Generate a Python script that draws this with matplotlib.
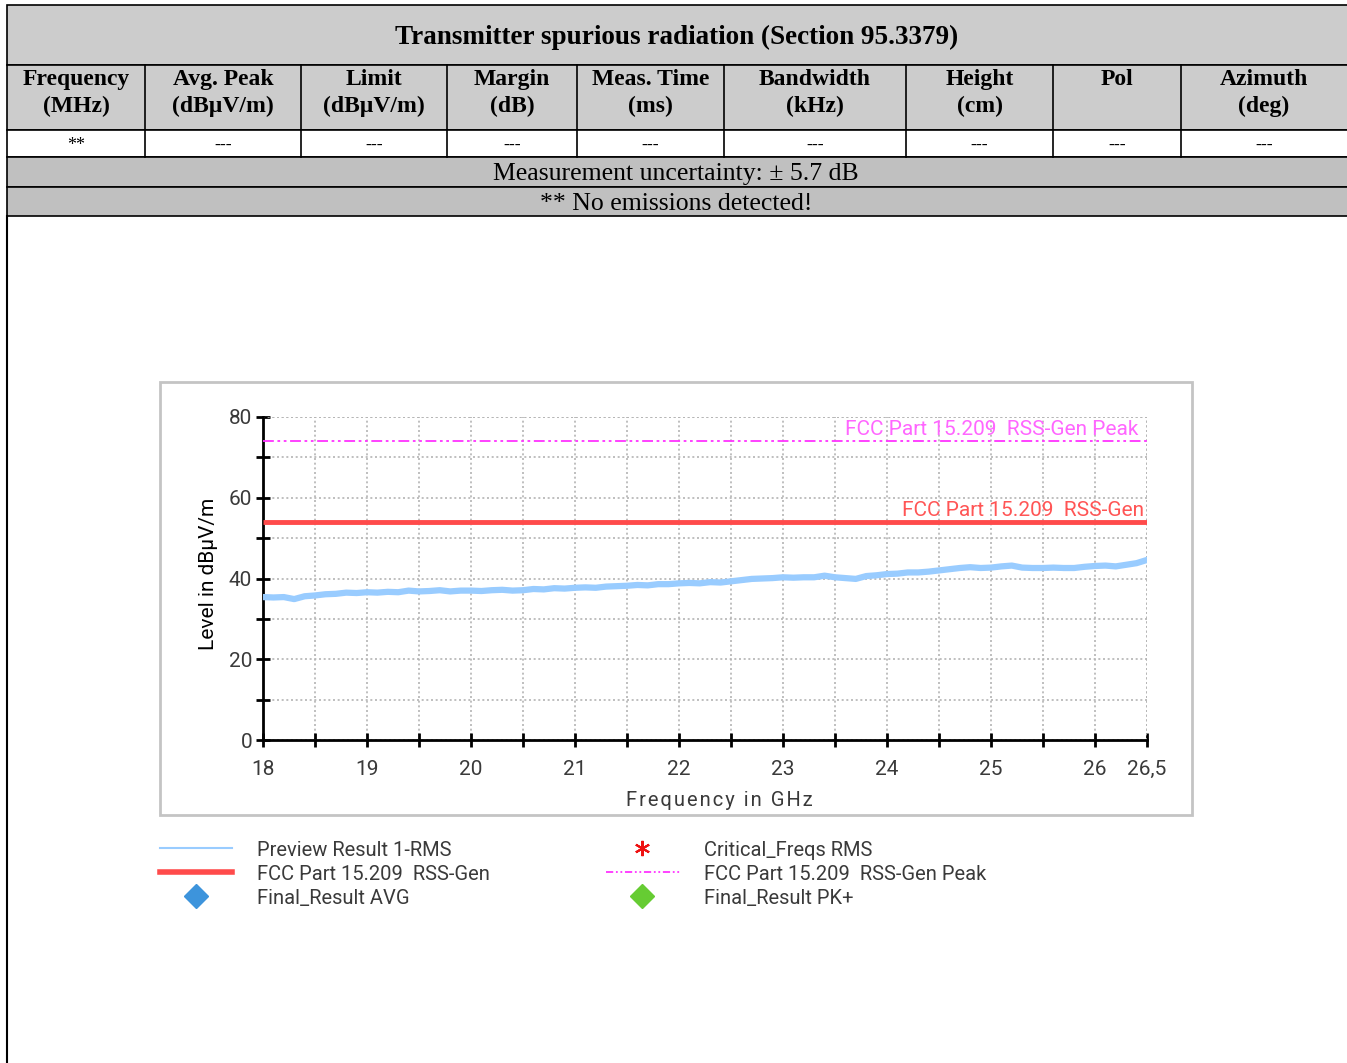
import matplotlib
matplotlib.use("Agg")
import matplotlib.pyplot as plt
from matplotlib.patches import Rectangle
from matplotlib.lines import Line2D
import numpy as np

# ---------------- data ----------------
table_title = "Transmitter spurious radiation (Section 95.3379)"
col_headers = ["Frequency\n(MHz)", "Avg. Peak\n(dBµV/m)", "Limit\n(dBµV/m)", "Margin\n(dB)",
               "Meas. Time\n(ms)", "Bandwidth\n(kHz)", "Height\n(cm)", "Pol", "Azimuth\n(deg)"]
row_values = ["**", "---", "---", "---", "---", "---", "---", "---", "---"]
note_uncertainty = "Measurement uncertainty: ± 5.7 dB"
note_emissions = "** No emissions detected!"

freq_ghz = [18.0, 18.1, 18.2, 18.3, 18.4, 18.5, 18.6, 18.7, 18.8, 18.9,
            19.0, 19.1, 19.2, 19.3, 19.4, 19.5, 19.6, 19.7, 19.8, 19.9,
            20.0, 20.1, 20.2, 20.3, 20.4, 20.5, 20.6, 20.7, 20.8, 20.9,
            21.0, 21.1, 21.2, 21.3, 21.4, 21.5, 21.6, 21.7, 21.8, 21.9,
            22.0, 22.1, 22.2, 22.3, 22.4, 22.5, 22.6, 22.7, 22.8, 22.9,
            23.0, 23.1, 23.2, 23.3, 23.4, 23.5, 23.6, 23.7, 23.8, 23.9,
            24.0, 24.1, 24.2, 24.3, 24.4, 24.5, 24.6, 24.7, 24.8, 24.9,
            25.0, 25.1, 25.2, 25.3, 25.4, 25.5, 25.6, 25.7, 25.8, 25.9,
            26.0, 26.1, 26.2, 26.3, 26.4, 26.5]
preview_rms = [35.4, 35.3, 35.4, 34.9, 35.6, 35.8, 36.1, 36.2, 36.5, 36.4,
               36.6, 36.5, 36.7, 36.6, 37.0, 36.8, 36.9, 37.1, 36.8, 37.0,
               37.0, 36.9, 37.1, 37.2, 37.0, 37.1, 37.4, 37.3, 37.6, 37.5,
               37.7, 37.8, 37.7, 38.0, 38.1, 38.2, 38.4, 38.3, 38.6, 38.6,
               38.8, 38.9, 38.8, 39.1, 39.0, 39.3, 39.6, 39.9, 40.0, 40.1,
               40.3, 40.2, 40.3, 40.3, 40.7, 40.3, 40.1, 39.9, 40.6, 40.8,
               41.1, 41.2, 41.5, 41.5, 41.7, 42.0, 42.3, 42.6, 42.8, 42.6,
               42.7, 43.0, 43.2, 42.7, 42.6, 42.6, 42.7, 42.6, 42.6, 42.9,
               43.1, 43.2, 43.0, 43.4, 43.8, 44.6]
limit_freq = [18.0, 26.5]
limit_avg = [54.0, 54.0]
limit_peak = [74.0, 74.0]
limit_avg_label = "FCC Part 15.209  RSS-Gen"
limit_peak_label = "FCC Part 15.209  RSS-Gen Peak"
x_tick_vals = [18, 19, 20, 21, 22, 23, 24, 25, 26, 26.5]
x_tick_labels = ["18", "19", "20", "21", "22", "23", "24", "25", "26", "26,5"]
y_tick_vals = [0, 20, 40, 60, 80]
legend_labels = ["Preview Result 1-RMS", "FCC Part 15.209  RSS-Gen", "Final_Result AVG",
                 "Critical_Freqs RMS", "FCC Part 15.209  RSS-Gen Peak", "Final_Result PK+"]
x_label = "Frequency in GHz"
y_label = "Level in dBµV/m"

# ---------------- figure ----------------
W, H = 1347, 1063
fig = plt.figure(figsize=(W / 100, H / 100), dpi=100)
fig.patch.set_facecolor("white")

ov = fig.add_axes([0, 0, 1, 1])
ov.set_xlim(0, W)
ov.set_ylim(H, 0)
ov.axis("off")

serif = "Liberation Serif"
chart_font = "Roboto"
txt_gray = "#3a3a3a"

# table
col_edges = [7, 145, 301, 447, 577, 724, 906, 1053, 1181, 1360]
gray1 = "#cccccc"
gray2 = "#c0c0c0"
ov.add_patch(Rectangle((7, 5), 1360, 60, facecolor=gray1, edgecolor="black", lw=1.2))
ov.text(677, 37, table_title, family=serif, weight="bold", fontsize=19.5,
        ha="center", va="center")
ov.add_patch(Rectangle((7, 65), 1360, 65, facecolor=gray1, edgecolor="black", lw=1.2))
ov.add_patch(Rectangle((7, 130), 1360, 27, facecolor="white", edgecolor="black", lw=1.2))
for i in range(len(col_headers)):
    x0, x1 = col_edges[i], col_edges[i + 1]
    if i < len(col_headers) - 1:
        ov.plot([x1, x1], [65, 157], color="black", lw=1.2)
    xc = (x0 + x1) / 2 if i < len(col_headers) - 1 else 1264
    ov.text(xc, 69, col_headers[i], family=serif, weight="bold", fontsize=17,
            ha="center", va="top", linespacing=1.38)
    ov.text(xc, 145, row_values[i], family=serif, fontsize=13,
            ha="center", va="center")
ov.add_patch(Rectangle((7, 157), 1360, 30, facecolor=gray2, edgecolor="black", lw=1.2))
ov.text(676, 174, note_uncertainty, family=serif, fontsize=18.5, ha="center", va="center")
ov.add_patch(Rectangle((7, 187), 1360, 29, facecolor=gray2, edgecolor="black", lw=1.2))
ov.text(676, 204, note_emissions, family=serif, fontsize=18.5, ha="center", va="center")
ov.plot([7, 7], [216, H], color="black", lw=1.5)

# chart frame
ov.add_patch(Rectangle((160, 382), 1032, 433, facecolor="white", edgecolor="#c4c4c4", lw=2))

# ---------------- chart ----------------
ax_l, ax_r, ax_t, ax_b = 263, 1147, 417, 740
ax = fig.add_axes([ax_l / W, 1 - ax_b / H, (ax_r - ax_l) / W, (ax_b - ax_t) / H])
ax.set_facecolor("none")
ax.set_xlim(18, 26.5)
ax.set_ylim(0, 80)

ax.plot(limit_freq, limit_peak, color="#ff33ff", lw=1.3,
        dashes=[6, 2, 1.5, 2, 1.5, 2], zorder=3)
ax.plot(limit_freq, limit_avg, color="#ff4b4b", lw=3.5, zorder=3, solid_capstyle="butt")
ax.plot(freq_ghz, preview_rms, color="#99ccff", lw=4.5, zorder=4)

ax.text(26.42, 74.6, limit_peak_label, color="#ff66ff", fontsize=15,
        family=chart_font, ha="right", va="bottom")
ax.text(26.47, 54.6, limit_avg_label, color="#ff5555", fontsize=15,
        family=chart_font, ha="right", va="bottom")

for s in ["top", "right"]:
    ax.spines[s].set_visible(False)
for s in ["left", "bottom"]:
    ax.spines[s].set_linewidth(2)
    ax.spines[s].set_color("black")

ax.set_xticks(x_tick_vals)
ax.set_xticklabels(x_tick_labels)
ax.set_xticks(np.arange(18.5, 26.5, 1.0), minor=True)
ax.set_yticks(y_tick_vals)
ax.set_yticks([10, 30, 50, 70], minor=True)
ax.tick_params(which="both", direction="inout", length=9.5, width=2, color="black")
ax.tick_params(axis="x", which="major", pad=9.5)
ax.tick_params(axis="y", which="major", pad=3)
for lab in ax.get_xticklabels() + ax.get_yticklabels():
    lab.set_family(chart_font)
    lab.set_fontsize(15)
    lab.set_color(txt_gray)

grid_ls = (0, (1.2, 1.6))
ax.grid(True, which="both", color="#b4b4b4", linestyle=grid_ls, lw=1.2)
ax.set_axisbelow(True)
ax.axhline(80, color="#b4b4b4", linestyle=grid_ls, lw=1.2, zorder=1)
ax.axvline(26.5, color="#b4b4b4", linestyle=grid_ls, lw=1.2, zorder=1)

spaced = "\u200a".join(x_label)
ax.set_xlabel(spaced, family=chart_font, fontsize=14.5, color=txt_gray)
ax.xaxis.set_label_coords((719 - ax_l) / (ax_r - ax_l), -(801 - ax_b) / (ax_b - ax_t))
ax.xaxis.label.set_va("center")
ax.set_ylabel(y_label, family=chart_font, fontsize=15, color="black")
ax.yaxis.set_label_coords(-(ax_l - 208) / (ax_r - ax_l), (ax_b - 574) / (ax_b - ax_t))
ax.yaxis.label.set_va("center")

# ---------------- legend (drawn manually) ----------------
leg_font = dict(family=chart_font, fontsize=14.5, color=txt_gray, va="center", ha="left")
ov.add_line(Line2D([160, 232], [848, 848], color="#99ccff", lw=1.5))
ov.add_line(Line2D([160, 232], [872, 872], color="#ff4b4b", lw=4))
ov.plot([196], [896], marker="D", color="#3d94dc", markersize=12, ls="none")
ov.plot([642], [848], marker=(6, 2, 0), color="#ee1111", markersize=11, mew=1.5, ls="none")
ov.add_line(Line2D([606, 680], [872, 872], color="#ff33ff", lw=1.3,
                   dashes=[4, 1.5, 1, 1.5, 1, 1.5]))
ov.plot([642], [896], marker="D", color="#66cc33", markersize=12, ls="none")
ov.text(257, 850, legend_labels[0], **leg_font)
ov.text(257, 874, legend_labels[1], **leg_font)
ov.text(257, 898, legend_labels[2], **leg_font)
ov.text(704, 850, legend_labels[3], **leg_font)
ov.text(704, 874, legend_labels[4], **leg_font)
ov.text(704, 898, legend_labels[5], **leg_font)

fig.savefig("out.png", dpi=100, facecolor="white")
